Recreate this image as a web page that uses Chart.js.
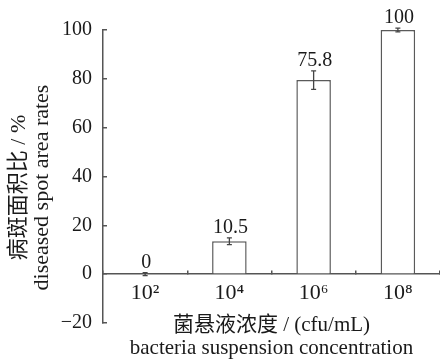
<!DOCTYPE html>
<html>
<head>
<meta charset="utf-8">
<script src="https://cdn.jsdelivr.net/npm/chart.js@4.4.1/dist/chart.umd.min.js"></script>
<style>
  body { margin: 0; background: #fff; }
  #grafico { width: 440px; height: 359px; position: relative; }
</style>
</head>
<body>
<div id="grafico"><canvas id="c"></canvas></div>
<script>
// concentrações (eixo x) e valores
const concentracoes = ['10²', '10⁴', '10⁶', '10⁸']
const taxas = [0, 13.5, 79.5, 100]
const erros = [0.6, 1.4, 3.8, 0.8]
const rotulos = ['0', '10.5', '75.8', '100']
const yTicks = { min: -20, max: 100, step: 20 }

const serif = "'Liberation Serif', 'Times New Roman', 'Noto Sans CJK SC', serif"
const corEixo = '#555'
const corTexto = '#1a1a1a'

// barras de erro + rótulos acima das barras
const barrasErro = {
  id: 'barrasErro',
  afterDatasetsDraw(chart) {
    const ctx = chart.ctx
    const y = chart.scales.y
    const meta = chart.getDatasetMeta(0)
    ctx.save()
    ctx.strokeStyle = '#444'
    ctx.lineWidth = 1.3
    meta.data.forEach((bar, i) => {
      const topo = y.getPixelForValue(taxas[i] + erros[i])
      const base = y.getPixelForValue(taxas[i] - erros[i])
      ctx.beginPath()
      ctx.moveTo(bar.x, topo); ctx.lineTo(bar.x, base)
      ctx.moveTo(bar.x - 2.5, topo); ctx.lineTo(bar.x + 2.5, topo)
      ctx.moveTo(bar.x - 2.5, base); ctx.lineTo(bar.x + 2.5, base)
      ctx.stroke()
      ctx.fillStyle = corTexto
      ctx.font = '20px ' + serif
      ctx.textAlign = 'center'
      ctx.textBaseline = 'alphabetic'
      ctx.fillText(rotulos[i], bar.x + 1, topo - 5)
    })
    ctx.restore()
  }
}

new Chart(document.getElementById('c'), {
  type: 'bar',
  data: {
    labels: concentracoes,
    datasets: [{
      data: taxas,
      backgroundColor: '#fff',
      borderColor: '#5a5a5a',
      borderWidth: 1.5,
      barPercentage: 0.41,
      categoryPercentage: 1
    }]
  },
  options: {
    responsive: true,
    maintainAspectRatio: false,
    animation: false,
    // o eixo x fica em y=0 e não ocupa espaço, então a margem de baixo vem daqui
    layout: { padding: { top: 30, left: 0, right: 0, bottom: 36 } },
    plugins: { legend: { display: false }, tooltip: { enabled: false } },
    scales: {
      x: {
        position: { y: 0 },
        afterFit: (s) => { s.height = 36 },
        grid: { drawOnChartArea: false, offset: true, color: corEixo, lineWidth: 1.5, tickLength: -4 },
        border: { color: corEixo, width: 1.5 },
        ticks: { color: corTexto, font: { family: serif, size: 22 }, padding: 10, maxRotation: 0 },
        title: {
          display: true,
          text: ['菌悬液浓度 / (cfu/mL)', 'bacteria suspension concentration'],
          color: corTexto,
          font: { family: serif, size: 21, lineHeight: '23px' },
          padding: { top: 0, bottom: -49.5 }
        }
      },
      y: {
        min: yTicks.min,
        max: yTicks.max,
        afterFit: (s) => { s.width = 103 },
        grid: { drawOnChartArea: false, color: corEixo, lineWidth: 1.5, tickLength: -4 },
        border: { color: corEixo, width: 1.5 },
        ticks: {
          stepSize: yTicks.step,
          color: corTexto,
          font: { family: serif, size: 20 },
          padding: 15,
          callback: (v) => String(v).replace('-', '−')
        },
        title: {
          display: true,
          // espaços no fim empurram o título um pouco para baixo, como no original
          text: ['病斑面积比 / %    ', 'diseased spot area rates    '],
          color: corTexto,
          font: { family: serif, size: 22, lineHeight: '23px' },
          padding: { top: 7.5, bottom: 0 }
        }
      }
    }
  },
  plugins: [barrasErro]
})
</script>
</body>
</html>
